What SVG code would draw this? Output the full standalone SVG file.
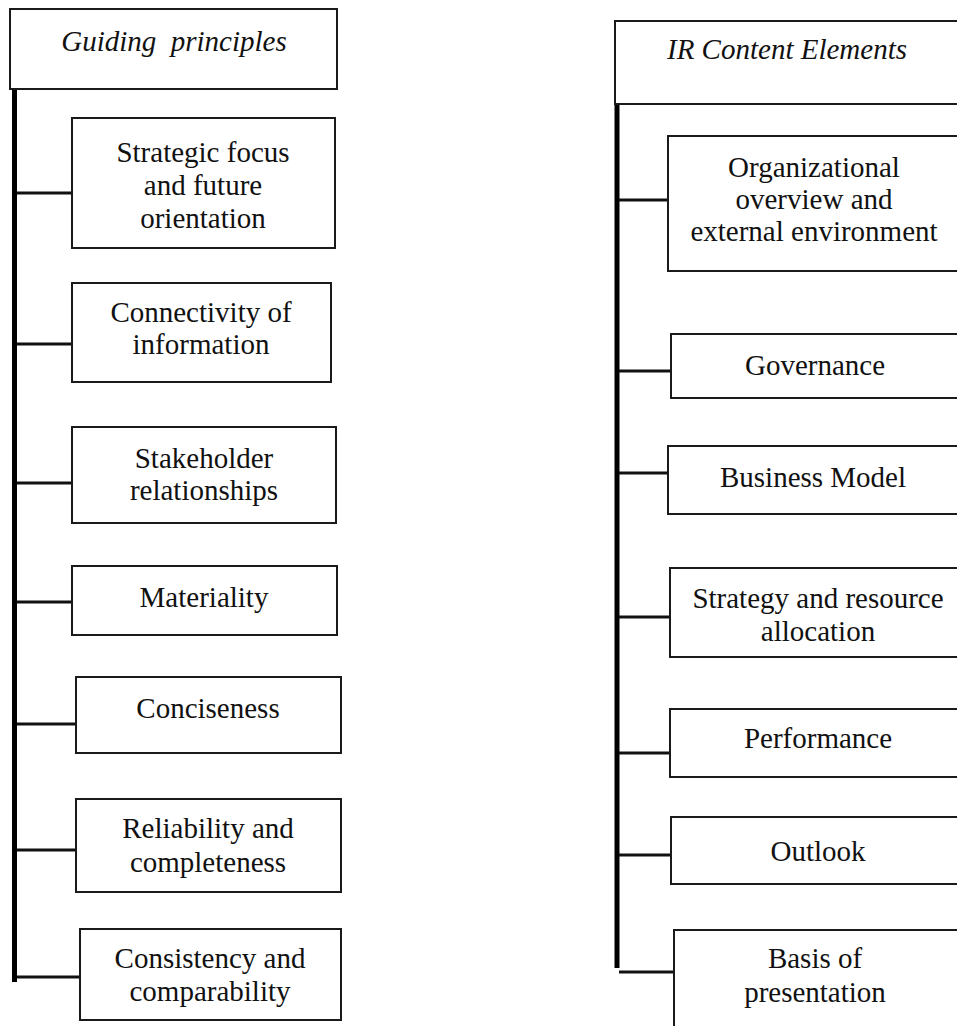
<svg xmlns="http://www.w3.org/2000/svg" width="957" height="1026" viewBox="0 0 957 1026">
  <style>
    .box { fill: #ffffff; stroke: #1a1a1a; stroke-width: 2; }
    .lbl { font-family: "Liberation Serif", "Times New Roman", serif; font-size: 29px; fill: #111; text-anchor: middle; }
    .hdr { font-style: italic; white-space: pre; }
    .spine { stroke: #000; stroke-width: 5; fill: none; }
    .tick { stroke: #111; stroke-width: 3; fill: none; }
  </style>
  <rect width="957" height="1026" fill="#ffffff"/>

  <!-- connectors: vertical spines and branch ticks -->
  <g id="connectors">
    <line class="spine" x1="14.5" y1="89" x2="14.5" y2="982"/>
    <line class="tick" x1="17" y1="193" x2="72" y2="193"/>
    <line class="tick" x1="17" y1="344" x2="72" y2="344"/>
    <line class="tick" x1="17" y1="483" x2="72" y2="483"/>
    <line class="tick" x1="17" y1="602" x2="72" y2="602"/>
    <line class="tick" x1="17" y1="724" x2="76" y2="724"/>
    <line class="tick" x1="17" y1="850" x2="76" y2="850"/>
    <line class="tick" x1="17" y1="977" x2="80" y2="977"/>

    <line class="spine" x1="617" y1="97" x2="617" y2="968"/>
    <line class="tick" x1="619" y1="200" x2="669" y2="200"/>
    <line class="tick" x1="619" y1="371" x2="671" y2="371"/>
    <line class="tick" x1="619" y1="473" x2="669" y2="473"/>
    <line class="tick" x1="619" y1="617" x2="670" y2="617"/>
    <line class="tick" x1="619" y1="753" x2="670" y2="753"/>
    <line class="tick" x1="619" y1="855" x2="671" y2="855"/>
    <line class="tick" x1="619" y1="972" x2="674" y2="972"/>
  </g>

  <!-- left column: guiding principles -->
  <g id="guiding-principles">
    <rect class="box" x="10" y="9" width="327" height="80"/>
    <text class="lbl hdr" x="174" y="51" xml:space="preserve">Guiding  principles</text>
  </g>
  <g id="strategic-focus">
    <rect class="box" x="72" y="118" width="263" height="130"/>
    <text class="lbl" x="203" y="162">Strategic focus</text>
    <text class="lbl" x="203" y="195">and future</text>
    <text class="lbl" x="203" y="228">orientation</text>
  </g>
  <g id="connectivity">
    <rect class="box" x="72" y="283" width="259" height="99"/>
    <text class="lbl" x="201" y="322">Connectivity of</text>
    <text class="lbl" x="201" y="354">information</text>
  </g>
  <g id="stakeholder">
    <rect class="box" x="72" y="427" width="264" height="96"/>
    <text class="lbl" x="204" y="468">Stakeholder</text>
    <text class="lbl" x="204" y="500">relationships</text>
  </g>
  <g id="materiality">
    <rect class="box" x="72" y="566" width="265" height="69"/>
    <text class="lbl" x="204" y="607">Materiality</text>
  </g>
  <g id="conciseness">
    <rect class="box" x="76" y="677" width="265" height="76"/>
    <text class="lbl" x="208" y="718">Conciseness</text>
  </g>
  <g id="reliability">
    <rect class="box" x="76" y="799" width="265" height="93"/>
    <text class="lbl" x="208" y="838">Reliability and</text>
    <text class="lbl" x="208" y="872">completeness</text>
  </g>
  <g id="consistency">
    <rect class="box" x="80" y="929" width="261" height="91"/>
    <text class="lbl" x="210" y="968">Consistency and</text>
    <text class="lbl" x="210" y="1001">comparability</text>
  </g>

  <!-- right column: IR content elements -->
  <g id="ir-content-elements">
    <rect class="box" x="615" y="21" width="350" height="83"/>
    <text class="lbl hdr" x="787" y="59">IR Content Elements</text>
  </g>
  <g id="organizational-overview">
    <rect class="box" x="668" y="136" width="297" height="135"/>
    <text class="lbl" x="814" y="177">Organizational</text>
    <text class="lbl" x="814" y="209">overview and</text>
    <text class="lbl" x="814" y="241">external environment</text>
  </g>
  <g id="governance">
    <rect class="box" x="671" y="334" width="294" height="64"/>
    <text class="lbl" x="815" y="375">Governance</text>
  </g>
  <g id="business-model">
    <rect class="box" x="668" y="446" width="297" height="68"/>
    <text class="lbl" x="813" y="487">Business Model</text>
  </g>
  <g id="strategy">
    <rect class="box" x="670" y="568" width="295" height="89"/>
    <text class="lbl" x="818" y="608">Strategy and resource</text>
    <text class="lbl" x="818" y="641">allocation</text>
  </g>
  <g id="performance">
    <rect class="box" x="670" y="709" width="295" height="68"/>
    <text class="lbl" x="818" y="748">Performance</text>
  </g>
  <g id="outlook">
    <rect class="box" x="671" y="817" width="294" height="67"/>
    <text class="lbl" x="818" y="861">Outlook</text>
  </g>
  <g id="basis-of-presentation">
    <rect class="box" x="674" y="930" width="291" height="110"/>
    <text class="lbl" x="815" y="968">Basis of</text>
    <text class="lbl" x="815" y="1002">presentation</text>
  </g>
</svg>
